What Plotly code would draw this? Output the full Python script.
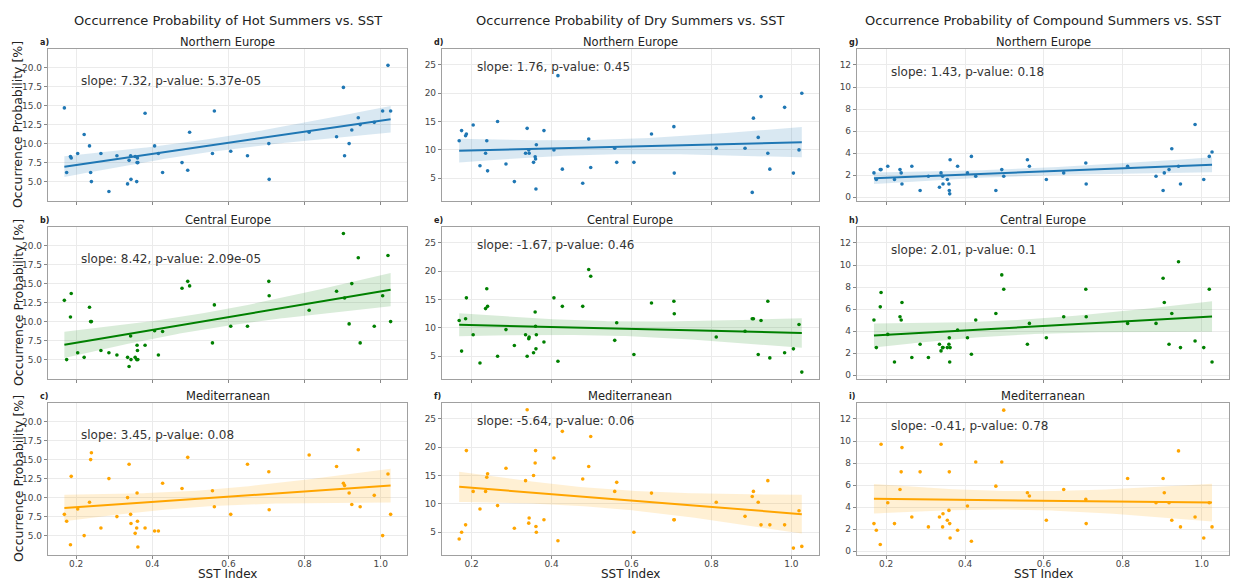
import numpy as np
import plotly.graph_objects as go

W, H = 1233, 580

sst_index = [0.169, 0.175, 0.185, 0.187, 0.204, 0.221, 0.235, 0.238, 0.240, 0.265,
             0.286, 0.307, 0.335, 0.339, 0.343, 0.344, 0.355, 0.359, 0.360, 0.361,
             0.362, 0.381, 0.406, 0.416, 0.427, 0.478, 0.493, 0.498, 0.558, 0.563,
             0.606, 0.650, 0.706, 0.707, 0.812, 0.884, 0.902, 0.905, 0.917, 0.924,
             0.941, 0.946, 0.983, 1.005, 1.019, 1.026]

hot_north = [14.7, 6.2, 8.3, 8.1, 8.7, 11.2, 9.7, 6.2, 5.0, 8.7, 3.7, 8.4, 4.7, 7.8, 8.4, 5.3,
             8.3, 5.0, 7.5, 8.1, 7.5, 14.0, 9.7, 8.7, 6.2, 7.5, 6.5, 11.5, 8.7, 14.3, 9.0, 8.4,
             10.0, 5.3, 11.5, 10.9, 17.4, 8.4, 10.0, 11.8, 13.4, 12.5, 12.8, 14.3, 20.3, 14.3]
hot_central = [12.8, 5.0, 10.6, 13.7, 5.9, 5.3, 11.9, 10.0, 10.0, 6.2, 5.9, 5.6, 5.3, 4.1, 8.1, 5.0,
               5.3, 5.0, 6.9, 6.2, 5.0, 6.9, 8.8, 5.6, 8.7, 14.4, 15.3, 14.7, 7.2, 12.2, 9.4, 9.4,
               15.3, 13.4, 11.5, 14.0, 21.6, 13.1, 9.7, 15.0, 18.4, 7.2, 9.4, 13.4, 18.7, 10.0]
hot_med = [7.8, 6.9, 3.8, 12.8, 8.5, 5.0, 9.4, 15.0, 15.9, 6.0, 12.5, 7.5, 10.0, 14.4, 7.8, 6.6,
           5.3, 6.0, 10.6, 6.9, 3.5, 6.0, 5.6, 5.6, 11.9, 11.2, 15.3, 17.8, 10.9, 8.8, 7.8, 14.4,
           13.4, 8.4, 15.6, 14.1, 11.9, 11.6, 10.6, 9.1, 16.3, 8.8, 10.3, 5.0, 13.1, 7.8]
dry_north = [11.6, 13.4, 12.5, 12.8, 14.4, 7.2, 9.4, 11.6, 6.3, 15.0, 7.5, 4.4, 9.4, 13.8, 10.0, 9.4,
             7.8, 8.8, 8.4, 3.1, 10.9, 13.4, 10.0, 23.1, 6.6, 4.1, 11.9, 6.9, 10.3, 7.8, 7.8, 12.8,
             14.1, 5.9, 10.3, 10.3, 2.5, 15.6, 12.2, 19.4, 9.4, 6.6, 17.5, 5.9, 10.0, 20.0]
dry_central = [11.3, 5.9, 11.6, 15.3, 8.8, 3.8, 13.4, 16.9, 13.8, 5.0, 9.7, 6.9, 8.8, 5.0, 8.1, 8.4,
               5.6, 12.8, 10.3, 6.3, 8.8, 7.5, 15.3, 4.1, 13.8, 13.8, 20.3, 19.1, 7.8, 10.9, 5.3, 14.4,
               14.7, 12.5, 8.4, 9.4, 11.6, 11.6, 5.3, 11.3, 14.7, 4.7, 5.6, 6.3, 10.6, 2.2]
dry_med = [3.8, 5.0, 6.3, 19.4, 12.2, 9.1, 12.2, 14.7, 15.3, 9.7, 16.3, 5.7, 14.1, 26.6, 6.6, 7.5,
           15.0, 17.2, 19.4, 6.0, 5.0, 7.2, 18.1, 3.5, 22.8, 14.4, 16.6, 21.9, 12.2, 13.8, 5.0, 11.9,
           7.2, 7.2, 10.3, 7.8, 11.3, 12.2, 10.3, 6.3, 14.1, 6.3, 6.3, 2.2, 8.8, 2.5]
comp_north = [2.2, 1.6, 2.5, 2.5, 2.8, 1.6, 2.5, 2.2, 1.2, 2.8, 0.6, 1.9, 0.9, 2.2, 1.9, 1.2,
              1.6, 1.2, 0.6, 0.3, 3.4, 2.8, 2.2, 3.7, 1.9, 0.6, 2.5, 1.9, 3.4, 2.8, 1.6, 2.2,
              3.1, 1.2, 2.8, 1.9, 0.6, 2.2, 2.5, 4.4, 2.8, 1.2, 6.6, 1.6, 3.7, 4.1]
comp_central = [5.0, 2.5, 6.2, 7.5, 3.7, 1.2, 5.3, 5.0, 6.6, 1.6, 2.8, 1.6, 2.8, 2.2, 2.5, 2.5,
                2.5, 2.8, 3.4, 1.2, 2.5, 4.1, 3.4, 1.9, 5.0, 5.6, 9.1, 7.8, 2.8, 4.7, 3.4, 5.3,
                7.8, 5.3, 4.7, 4.7, 8.8, 6.6, 2.8, 5.6, 10.3, 2.5, 3.1, 2.5, 7.8, 1.2]
comp_med = [2.5, 1.9, 0.6, 9.7, 4.4, 2.5, 5.6, 7.2, 9.4, 3.1, 7.2, 2.2, 3.1, 9.7, 2.2, 3.4,
            2.8, 3.7, 7.2, 2.5, 1.2, 1.9, 4.1, 0.9, 8.1, 5.9, 8.1, 12.8, 5.3, 5.0, 2.8, 5.6,
            4.7, 2.5, 6.6, 4.4, 6.6, 5.3, 4.4, 2.8, 9.1, 2.2, 3.1, 1.2, 4.4, 2.2]

column_titles = ["Occurrence Probability of Hot Summers vs. SST",
                 "Occurrence Probability of Dry Summers vs. SST",
                 "Occurrence Probability of Compound Summers vs. SST"]
region_titles = ["Northern Europe", "Central Europe", "Mediterranean"]
panel_letters = [["a)", "b)", "c)"], ["d)", "e)", "f)"], ["g)", "h)", "i)"]]
stats_text = [["slope: 7.32, p-value: 5.37e-05", "slope: 8.42, p-value: 2.09e-05", "slope: 3.45, p-value: 0.08"],
              ["slope: 1.76, p-value: 0.45", "slope: -1.67, p-value: 0.46", "slope: -5.64, p-value: 0.06"],
              ["slope: 1.43, p-value: 0.18", "slope: 2.01, p-value: 0.1", "slope: -0.41, p-value: 0.78"]]
series = [[hot_north, hot_central, hot_med],
          [dry_north, dry_central, dry_med],
          [comp_north, comp_central, comp_med]]
region_colors = ["#1f77b4", "#008000", "#ffa500"]
band_colors = ["rgba(31,119,180,0.17)", "rgba(0,128,0,0.15)", "rgba(255,165,0,0.17)"]

y_ticks = [[5, 7.5, 10, 12.5, 15, 17.5, 20], [5, 10, 15, 20, 25], [0, 2, 4, 6, 8, 10, 12]]
y_tickfmt = [".1f", "d", "d"]
y_ranges = [[2.45, 22.45], [0.98, 27.8], [-0.35, 13.45]]
text_y = [18.3, 24.7, 11.4]
x_range = [0.126, 1.069]
x_ticks = [0.2, 0.4, 0.6, 0.8, 1.0]

col_px = [(48, 407), (442, 819), (857, 1229)]
row_px = [(49, 201), (227, 379), (403, 555)]

fig = go.Figure()
layout = {}
annotations = []

x = np.array(sst_index)
for c in range(3):
    for r in range(3):
        k = c * 3 + r + 1
        xa = "x" if k == 1 else f"x{k}"
        ya = "y" if k == 1 else f"y{k}"
        y = np.array(series[c][r])
        # OLS fit with 95% CI of the mean
        n = len(x)
        b1, b0 = np.polyfit(x, y, 1)
        xg = np.linspace(x.min(), x.max(), 100)
        yg = b0 + b1 * xg
        resid = y - (b0 + b1 * x)
        s = np.sqrt(np.sum(resid ** 2) / (n - 2))
        sxx = np.sum((x - x.mean()) ** 2)
        se = s * np.sqrt(1.0 / n + (xg - x.mean()) ** 2 / sxx)
        lo, hi = yg - 2.015 * se, yg + 2.015 * se
        col = region_colors[r]
        fig.add_trace(go.Scatter(x=np.concatenate([xg, xg[::-1]]), y=np.concatenate([hi, lo[::-1]]),
                                 fill="toself", fillcolor=band_colors[r], line=dict(width=0),
                                 mode="lines", hoverinfo="skip", showlegend=False, xaxis=xa, yaxis=ya))
        fig.add_trace(go.Scatter(x=x, y=y, mode="markers", marker=dict(size=3.6, color=col),
                                 showlegend=False, xaxis=xa, yaxis=ya))
        fig.add_trace(go.Scatter(x=xg, y=yg, mode="lines", line=dict(color=col, width=2),
                                 showlegend=False, xaxis=xa, yaxis=ya))

        x0, x1 = col_px[c]
        t0, t1 = row_px[r]
        xdom = [x0 / W, x1 / W]
        ydom = [1 - t1 / H, 1 - t0 / H]
        axis_common = dict(showline=True, mirror=True, linecolor="#a0a0a0", linewidth=1.2,
                           showgrid=True, gridcolor="#ebebeb", gridwidth=1, zeroline=False,
                           ticks="outside", ticklen=3, tickcolor="#888888",
                           tickfont=dict(family="DejaVu Sans", size=9, color="#444444"))
        layout["xaxis" if k == 1 else f"xaxis{k}"] = dict(
            domain=xdom, anchor=ya, range=x_range, tickvals=x_ticks,
            ticktext=[f"{v:.1f}" for v in x_ticks], showticklabels=(r == 2),
            ticklabelstandoff=-3, **axis_common)
        layout["yaxis" if k == 1 else f"yaxis{k}"] = dict(
            domain=ydom, anchor=xa, range=y_ranges[c], tickvals=y_ticks[c],
            tickformat=y_tickfmt[c], **axis_common)

        annotations.append(dict(text=stats_text[c][r], x=0.087, y=text_y[c], xref=f"{xa} domain", yref=ya,
                                xanchor="left", yanchor="middle", showarrow=False,
                                font=dict(family="DejaVu Sans", size=12, color="#333333")))
        annotations.append(dict(text=region_titles[r], x=(x0 + x1) / 2 / W, y=1 - (t0 - 7) / H,
                                xref="paper", yref="paper", xanchor="center", yanchor="middle",
                                showarrow=False, font=dict(family="DejaVu Sans", size=11.5, color="#222222")))
        annotations.append(dict(text="<b>" + panel_letters[c][r] + "</b>", x=(x0 - 10) / W, y=1 - (t0 - 7) / H,
                                xref="paper", yref="paper", xanchor="left", yanchor="middle",
                                showarrow=False, font=dict(family="DejaVu Sans", size=8, color="#222222")))
    annotations.append(dict(text=column_titles[c], x=(col_px[c][0] + col_px[c][1]) / 2 / W, y=1 - 20.5 / H,
                            xref="paper", yref="paper", xanchor="center", yanchor="middle",
                            showarrow=False, font=dict(family="DejaVu Sans", size=13, color="#222222")))
    annotations.append(dict(text="SST Index", x=(col_px[c][0] + col_px[c][1]) / 2 / W, y=1 - 574 / H,
                            xref="paper", yref="paper", xanchor="center", yanchor="middle",
                            showarrow=False, font=dict(family="DejaVu Sans", size=12, color="#222222")))

for r in range(3):
    t0, t1 = row_px[r]
    annotations.append(dict(text="Occurrence Probability [%]", x=18 / W, y=1 - (t0 + t1) / 2 / H,
                            xref="paper", yref="paper", xanchor="center", yanchor="middle", textangle=-90,
                            showarrow=False, font=dict(family="DejaVu Sans", size=12.5, color="#222222")))

fig.update_layout(width=W, height=H, margin=dict(l=0, r=0, t=0, b=0),
                  paper_bgcolor="white", plot_bgcolor="white", showlegend=False,
                  annotations=annotations, **layout)
fig.write_html("out.html", config={"displayModeBar": False},
               post_script="document.body.style.margin='0';document.body.style.overflow='hidden';")
